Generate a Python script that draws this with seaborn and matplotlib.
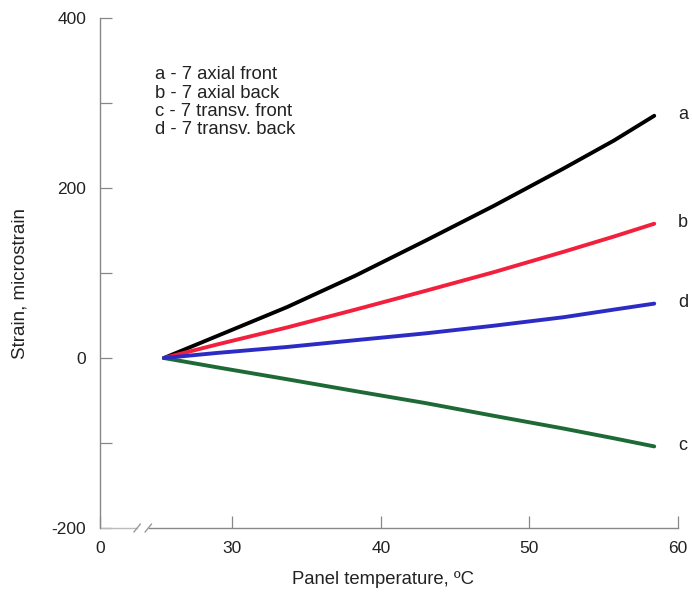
#
# strain vs panel temperature, gauges at location 7
#
import pandas as pd
import numpy as np
import matplotlib
matplotlib.use('Agg')
import matplotlib.pyplot as plt
import seaborn as sns

# data
temp = [25.4, 29.0, 33.7, 38.3, 43.0, 47.6, 52.3, 55.7, 58.4]
axial_front = [0, 26, 60, 97, 138, 179, 223, 256, 285]
axial_back = [0, 16, 36, 57, 79, 101, 125, 143, 158]
transv_front = [0, -11, -25, -39, -53, -68, -83, -94.5, -104]
transv_back = [0, 6, 13, 21, 29, 38, 48, 57, 64]

series_names = ['a', 'b', 'c', 'd']
series_labels = ['a - 7 axial front', 'b - 7 axial back',
                 'c - 7 transv. front', 'd - 7 transv. back']
series_colors = ['#000000', '#f2203c', '#1d6a36', '#2c2cc4']

x_ticks = [21.1, 30, 40, 50, 60]
x_tick_labels = ['0', '30', '40', '50', '60']
y_ticks = [-200, -100, 0, 100, 200, 300, 400]
y_tick_labels = ['-200', '', '0', '', '200', '', '400']

df = pd.DataFrame({
    'temp': temp * 4,
    'strain': axial_front + axial_back + transv_front + transv_back,
    'gauge': [n for n in series_names for _ in temp],
})

sns.set_style('ticks')
plt.rcParams['font.family'] = ['Liberation Sans', 'DejaVu Sans']

fig = plt.figure(figsize=(6.92, 5.93), dpi=100)
ax = fig.add_axes([0.1445, 0.1096, 0.8353, 0.86])

for name, col in zip(series_names, series_colors):
    sub = df[df['gauge'] == name]
    sns.lineplot(data=sub, x='temp', y='strain', color=col, lw=2.8,
                 ax=ax, legend=False)
    ax.text(sub['temp'].iloc[-1] + 1.95, sub['strain'].iloc[-1] + 1, name,
            fontsize=13, va='center', ha='center', color='#222222')

ax.set_xlim(21.1, 60)
ax.set_ylim(-200, 400)
ax.set_xticks(x_ticks)
ax.set_xticklabels(x_tick_labels)
ax.set_yticks(y_ticks)
ax.set_yticklabels(y_tick_labels)
ax.tick_params(direction='in', length=8.5, width=0.9, color='#888888',
               labelsize=12.5, labelcolor='#222222', pad=9)
ax.tick_params(axis='y', pad=10)

sns.despine(ax=ax)
for s in ['left', 'bottom']:
    ax.spines[s].set_color('#888888')
    ax.spines[s].set_linewidth(1.0)
ax.spines['bottom'].set_bounds(24.4, 60)

# broken x axis
ax.plot([21.1, 23.6], [0, 0], transform=ax.get_xaxis_transform(),
        color='#bbbbbb', lw=1.0, clip_on=False)
for xb in [23.6, 24.35]:
    ax.plot([xb - 0.22, xb + 0.22], [-0.008, 0.008],
            transform=ax.get_xaxis_transform(), color='#999999', lw=1.0,
            clip_on=False)

ax.set_xlabel('Panel temperature, ºC', fontsize=13.3, color='#222222')
ax.xaxis.set_label_coords(0.49, -0.085)
ax.set_ylabel('Strain, microstrain', fontsize=13.5, color='#222222')
ax.yaxis.set_label_coords(-0.124, 0.48)

ax.text(0.095, 0.905, '\n'.join(series_labels), transform=ax.transAxes,
        fontsize=13.3, va='top', ha='left', linespacing=1.1, color='#222222')

fig.savefig('out.png', dpi=100)
